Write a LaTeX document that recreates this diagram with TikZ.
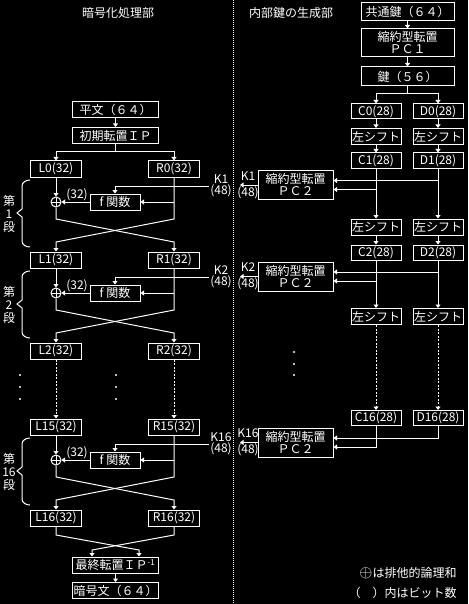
\documentclass[tikz,border=0pt]{standalone}
\usepackage{fontspec}
\setmainfont{Noto Sans CJK JP}
\usetikzlibrary{arrows.meta}

\newcommand\jfont{\fontsize{12}{12}\selectfont}

\begin{document}
\begin{tikzpicture}[
    x=1pt, y=-1pt,
    color=white, line width=1pt,
    every node/.style={font=\jfont, inner sep=1pt},
    arr/.style={-{Triangle[length=3.5pt,width=5pt]}},
    dots/.style={dash pattern=on 2pt off 1.5pt},
    mainbox/.style={draw, minimum width=86pt, minimum height=16pt},
    regbox/.style={draw, minimum width=51pt, minimum height=16pt},
    fbox/.style={draw, minimum width=50pt, minimum height=16pt},
    cdbox/.style={draw, minimum width=50pt, minimum height=15pt},
    shbox/.style={draw, minimum width=50pt, minimum height=16pt},
    keybox/.style={draw, minimum width=93pt, minimum height=18pt},
    pcbox/.style={draw, minimum width=75pt, minimum height=29pt, align=center},
    xorc/.style={circle, draw, minimum size=10pt, inner sep=0pt,
        path picture={\draw (path picture bounding box.north) -- (path picture bounding box.south)
            (path picture bounding box.west) -- (path picture bounding box.east);}},
]

% ----------------------------------------------------------------------
% Background, frame and separator
% ----------------------------------------------------------------------
\fill[black] (0,0) rectangle (468,604);
\useasboundingbox (0,0) rectangle (468,604);
\draw[dash pattern=on 1pt off 1pt] (233,0) -- (233,604);

\node (t1) at (118,13) {暗号化処理部};
\node (t2) at (291,13) {内部鍵の生成部};

% ----------------------------------------------------------------------
% Encryption side
% ----------------------------------------------------------------------
\node[mainbox] (pt) at (115.5,110) {平文（６４）};
\node[mainbox] (ip) at (115.5,135.5) {初期転置ＩＰ};

\foreach \n/\y in {0/169, 1/260, 2/351, 15/427, 16/518} {
    \node[regbox] (L\n) at (56,\y) {L\n(32)};
    \node[regbox] (R\n) at (174,\y) {R\n(32)};
}

\coordinate (sp1) at (115.5,152);
\draw[arr] (pt) -- (ip);
\draw (ip) -- (sp1);
\draw[arr] (sp1) -| (L0);
\draw[arr] (sp1) -| (R0);

% one round: L/R in (\a), out (\b), box row at \y
\foreach \s/\a/\b/\y in {1/0/1/169, 2/1/2/260, 16/15/16/427} {
    \node[xorc] (x\s) at (56,\y+33) {};
    \node[fbox] (f\s) at (115,\y+33) {f 関数};
    \node (w\s) at (77,\y+26) {(32)};
    \node[align=center] (ki\s) at (221,\y+17) {K\s\\[-1.5pt](48)};
    \draw[arr] (L\a) -- (x\s);
    \draw[arr] (ki\s.west) -| (f\s);
    \draw[arr] (R\a.south |- f\s.east) -- (f\s.east);
    \draw[arr] (f\s) -- (x\s);
    \draw[arr] (x\s) -- (56,\y+50) -- (174,\y+73) -- (R\b);
    \draw[arr] (R\a) -- (174,\y+50) -- (56,\y+73) -- (L\b);
    % brace + stage label
    \draw (30,\y+11) to[out=180,in=90] (22,\y+17) -- (22,\y+40)
        -- (17,\y+44) -- (22,\y+48) -- (22,\y+72) to[out=-90,in=180] (30,\y+78);
    \node[align=center, font=\fontsize{12}{13}\selectfont] (st\s) at (9,\y+45) {第\\\s\\段};
}

\draw[arr, dots] (L2) -- (L15);
\draw[arr, dots] (R2) -- (R15);
\foreach \x in {20,116}
    \foreach \d in {375,387,399}
        \fill (\x,\d) circle (1.2);

\node[mainbox] (fp) at (115.5,565) {最終転置ＩＰ\textsuperscript{-1}};
\node[mainbox] (ct) at (115.5,590.5) {暗号文（６４）};
\coordinate (fl) at (139,550);
\coordinate (fr) at (92,550);
\draw[arr] (L16) -- (56,535) -- (fl) -- (fl |- fp.north);
\draw[arr] (R16) -- (174,535) -- (fr) -- (fr |- fp.north);
\draw[arr] (fp) -- (ct);

% ----------------------------------------------------------------------
% Key schedule side
% ----------------------------------------------------------------------
\node[keybox] (ck) at (407.5,12) {共通鍵（６４）};
\node[keybox, minimum height=28pt, align=center] (pc1) at (407.5,43) {縮約型転置\\ＰＣ１};
\node[keybox, minimum height=19pt] (k56) at (407.5,76.5) {鍵（５６）};
\draw[arr] (ck) -- (pc1);
\draw[arr] (pc1) -- (k56);

\foreach \n/\y in {0/111.5, 1/160.5, 2/252.5, 16/418} {
    \node[cdbox] (C\n) at (376,\y) {C\n(28)};
    \node[cdbox] (D\n) at (438,\y) {D\n(28)};
}
\foreach \n/\y in {1/136.5, 2/227, 3/316.5} {
    \node[shbox] (sc\n) at (376,\y) {左シフト};
    \node[shbox] (sd\n) at (438,\y) {左シフト};
}

\coordinate (sp2) at (407.5,94);
\draw (k56) -- (sp2);
\draw[arr] (sp2) -| (C0);
\draw[arr] (sp2) -| (D0);

\foreach \u/\l in {C/c, D/d} {
    \draw[arr] (\u0) -- (s\l1);
    \draw[arr] (s\l1) -- (\u1);
    \draw[arr] (\u1) -- (s\l2);
    \draw[arr] (s\l2) -- (\u2);
    \draw[arr] (\u2) -- (s\l3);
    \draw[arr, dots] (s\l3) -- (\u16);
}
\foreach \d in {352,364,375}
    \fill (294,\d) circle (1.2);

% PC2 boxes and round keys
\foreach \p/\k/\y in {pa/1/185, pb/2/276.5, pc/16/442.5} {
    \node[pcbox] (\p) at (295.5,\y) {縮約型転置\\ＰＣ２};
    \draw[arr] (D\k.south) |- ([yshift=4.5pt]\p.east);
    \draw[arr] (C\k.south) |- ([yshift=-4.5pt]\p.east);
    \coordinate (ko\k) at (240,\y);
    \draw[arr] (\p.west) -- (ko\k);
    \node[align=center] (kl\k) at (248,\y) {K\k\\[4pt](48)};
}

% notes
\node[anchor=east] (n1) at (458,573) {\scalebox{1.4}{$\oplus$}は排他的論理和};
\node[anchor=east] (n2) at (458,593) {（　）内はビット数};

\end{tikzpicture}
\end{document}
